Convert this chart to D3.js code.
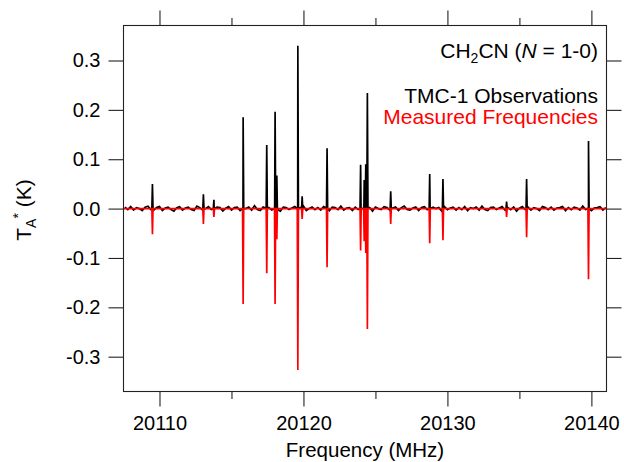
<!DOCTYPE html>
<html>
<head>
<meta charset="utf-8">
<script src="https://cdn.jsdelivr.net/npm/d3@7"></script>
<style>
  html, body { margin: 0; padding: 0; background: #fff; }
  svg { display: block; font-family: "Liberation Sans", Arial, Helvetica, sans-serif; }
</style>
</head>
<body>
<svg id="chart" width="624" height="462"></svg>
<script>
// ---------------- data ----------------
// line frequencies (MHz)
const lineFreqs = [20109.51, 20113.05, 20113.78, 20115.81, 20117.45, 20118.03, 20118.15,
  20119.61, 20119.91, 20121.64, 20123.97, 20124.22, 20124.33, 20124.44, 20126.06,
  20128.77, 20129.69, 20134.11, 20135.50, 20139.80];
// TMC-1 observed peak intensities, T_A* (K)
const observedPeaks = [0.050, 0.029, 0.018, 0.185, 0.129, 0.196, 0.067,
  0.330, 0.025, 0.122, 0.089, 0.058, 0.090, 0.234, 0.035,
  0.070, 0.060, 0.014, 0.060, 0.137];
// measured-frequency simulation (plotted inverted), T_A* (K)
const measuredPeaks = [-0.052, -0.031, -0.017, -0.193, -0.131, -0.193, -0.062,
  -0.327, -0.021, -0.119, -0.085, -0.066, -0.090, -0.244, -0.031,
  -0.070, -0.064, -0.017, -0.058, -0.143];
// baseline noise of the observed spectrum (mK), sampled every 0.2 MHz from 20107.6
const noiseStart = 20107.6, noiseStep = 0.2;
const noiseMilliK = [
  3,-2,4,-3,2,0,-4,3,5,-2,-3,2,4,-4,1,3,-2,-5,2,4,
  -3,1,3,-2,-4,5,2,-3,0,4,-2,-3,3,2,-5,1,4,-3,2,3,
  -4,2,0,3,-3,6,-2,-4,3,1,2,-3,4,-2,-5,3,2,-2,1,4,
  -3,2,5,-4,0,3,-2,2,-3,4,1,-4,3,2,-2,5,-3,1,2,-4,
  3,-2,1,4,-3,2,-5,3,0,-2,4,2,-3,1,3,-4,2,5,-2,-3,
  1,3,-4,2,4,-2,-3,3,0,2,-5,4,-2,1,3,-3,2,-2,4,-4,
  2,0,3,-3,5,-2,-4,2,3,-2,1,4,-3,2,-2,3,-5,1,4,-2,
  3,-3,2,0,-4,4,2,-2,3,-3,1,2,4,-4,2,-2,3,1,-3,5,
  -2,3,-4,1,2,4,-3,2
];
const xMajorTicks = [20110, 20120, 20130, 20140];
const xMinorTicks = [20115, 20125, 20135];
const yTicks = [-0.3, -0.2, -0.1, 0.0, 0.1, 0.2, 0.3];
const xDomain = [20107.5, 20141.05];
const yDomain = [-0.3705, 0.3709];

// ---------------- layout ----------------
const svg = d3.select("#chart");
const plot = { left: 123.5, right: 606.5, top: 25.5, bottom: 391.5 };
const x = d3.scaleLinear().domain(xDomain).range([plot.left, plot.right]);
const y = d3.scaleLinear().domain(yDomain).range([plot.bottom, plot.top]);
const FONT = '"Liberation Sans", Arial, Helvetica, sans-serif';

svg.append("clipPath").attr("id", "clip")
  .append("rect").attr("x", plot.left).attr("y", plot.top)
  .attr("width", plot.right - plot.left).attr("height", plot.bottom - plot.top);

// ---------------- traces ----------------
const hw = 0.04; // half-width of a line, MHz
const obsPts = noiseMilliK.map((v, i) => ({ f: noiseStart + i * noiseStep, v: v / 1000 }));
lineFreqs.forEach((f, i) => {
  obsPts.push({ f: f - hw, v: 0 }, { f: f, v: observedPeaks[i] }, { f: f + hw, v: 0 });
});
obsPts.sort((a, b) => a.f - b.f);

const measPts = [{ f: xDomain[0], v: 0 }, { f: xDomain[1], v: 0 }];
lineFreqs.forEach((f, i) => {
  measPts.push({ f: f - hw, v: 0 }, { f: f, v: measuredPeaks[i] }, { f: f + hw, v: 0 });
});
measPts.sort((a, b) => a.f - b.f);

const line = d3.line().x(d => x(d.f)).y(d => y(d.v));
const traces = svg.append("g").attr("clip-path", "url(#clip)");
traces.append("path").datum(obsPts).attr("d", line)
  .attr("fill", "none").attr("stroke", "#000").attr("stroke-width", 1.7)
  .attr("stroke-linejoin", "miter");
traces.append("path").datum(measPts).attr("d", line)
  .attr("fill", "none").attr("stroke", "#ff0000").attr("stroke-width", 1.7)
  .attr("stroke-linejoin", "miter");

// ---------------- axes ----------------
function styleAxis(g) {
  g.select(".domain").remove();
  g.selectAll(".tick line").attr("stroke", "#222").attr("stroke-width", 1.1);
  g.selectAll("text").attr("font-family", FONT).attr("font-size", 20).attr("fill", "#000");
}
svg.append("g").attr("transform", `translate(0,${plot.bottom})`)
  .call(d3.axisBottom(x).tickValues(xMajorTicks).tickSize(15).tickPadding(9).tickFormat(d3.format("d")))
  .call(styleAxis);
svg.append("g").attr("transform", `translate(0,${plot.bottom})`)
  .call(d3.axisBottom(x).tickValues(xMinorTicks).tickSize(7.5).tickFormat(""))
  .call(styleAxis);
svg.append("g").attr("transform", `translate(0,${plot.top})`)
  .call(d3.axisTop(x).tickValues(xMajorTicks).tickSize(15).tickFormat(""))
  .call(styleAxis);
svg.append("g").attr("transform", `translate(0,${plot.top})`)
  .call(d3.axisTop(x).tickValues(xMinorTicks).tickSize(7.5).tickFormat(""))
  .call(styleAxis);
svg.append("g").attr("transform", `translate(${plot.left},0)`)
  .call(d3.axisLeft(y).tickValues(yTicks).tickSize(15).tickPadding(8).tickFormat(d => d.toFixed(1)))
  .call(styleAxis);
svg.append("g").attr("transform", `translate(${plot.right},0)`)
  .call(d3.axisRight(y).tickValues(yTicks).tickSize(15).tickFormat(""))
  .call(styleAxis);

// frame
svg.append("rect").attr("x", plot.left).attr("y", plot.top)
  .attr("width", plot.right - plot.left).attr("height", plot.bottom - plot.top)
  .attr("fill", "none").attr("stroke", "#222").attr("stroke-width", 1.1);

// ---------------- labels ----------------
svg.append("text").attr("x", (plot.left + plot.right) / 2).attr("y", 457)
  .attr("text-anchor", "middle").attr("font-size", 20.5).attr("font-family", FONT)
  .text("Frequency (MHz)");

const yl = svg.append("text").attr("transform", "translate(31,210) rotate(-90)")
  .attr("text-anchor", "middle").attr("font-size", 21).attr("font-family", FONT);
yl.append("tspan").text("T");
yl.append("tspan").attr("font-size", 14).attr("dy", 5).text("A");
yl.append("tspan").attr("font-size", 14).attr("dy", -13).text("*");
yl.append("tspan").attr("dy", 8).text(" (K)");

const t1 = svg.append("text").attr("x", 598).attr("y", 58.3)
  .attr("text-anchor", "end").attr("font-size", 21).attr("font-family", FONT);
t1.append("tspan").text("CH");
t1.append("tspan").attr("font-size", 14).attr("dy", 5).text("2");
t1.append("tspan").attr("dy", -5).text("CN (");
t1.append("tspan").attr("font-style", "italic").text("N");
t1.append("tspan").text(" = 1-0)");

svg.append("text").attr("x", 598).attr("y", 102.5)
  .attr("text-anchor", "end").attr("font-size", 21).attr("font-family", FONT)
  .attr("fill", "#000").text("TMC-1 Observations");
svg.append("text").attr("x", 598).attr("y", 123.5)
  .attr("text-anchor", "end").attr("font-size", 21).attr("font-family", FONT)
  .attr("fill", "#ff0000").text("Measured Frequencies");
</script>
</body>
</html>
